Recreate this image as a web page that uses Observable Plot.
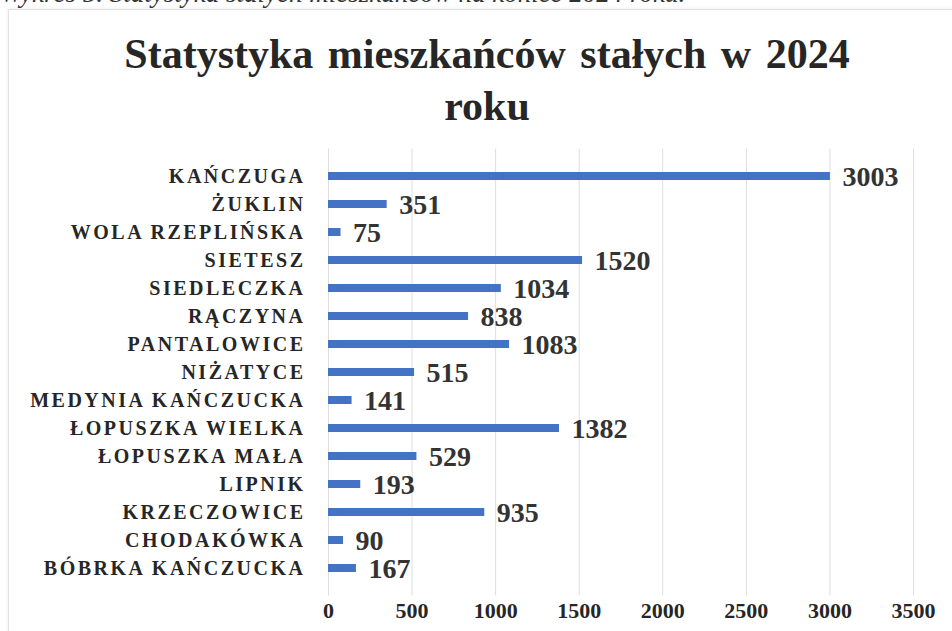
<!DOCTYPE html>
<html>
<head>
<meta charset="utf-8">
<script src="https://cdn.jsdelivr.net/npm/d3@7"></script>
<script src="https://cdn.jsdelivr.net/npm/@observablehq/plot@0.6"></script>
<style>
  html, body { margin: 0; padding: 0; background: #fff; }
  #wrap { position: relative; width: 952px; height: 631px; overflow: hidden; background: #fff; }
  #caption { position: absolute; left: 0px; top: -22px; font: italic 27px "Liberation Serif", serif; color: #333; white-space: nowrap; }
  #frame { position: absolute; left: 8px; top: 9px; width: 1000px; height: 700px; border-left: 1.5px solid #e2e2e2; border-top: 1.5px solid #e2e2e2; box-shadow: -1px -1px 3px rgba(0,0,0,0.05); }
  #title { position: absolute; left: 0; top: 28px; width: 974px; text-align: center; font: bold 42px/52px "Liberation Serif", serif; color: #262626; word-spacing: 4px; }
  #chart { position: absolute; left: 0; top: 140px; }
  #chart g[aria-label="y-axis tick label"] text { letter-spacing: 2.5px; }
</style>
</head>
<body>
<div id="wrap">
  <div id="caption">Wykres 5. Statystyka stałych mieszkańców na koniec 2024 roku.</div>
  <div id="frame"></div>
  <div id="title">Statystyka mieszkańców stałych w 2024<br>roku</div>
  <div id="chart"></div>
</div>
<script>
const villages = ["KAŃCZUGA", "ŻUKLIN", "WOLA RZEPLIŃSKA", "SIETESZ", "SIEDLECZKA", "RĄCZYNA", "PANTALOWICE", "NIŻATYCE", "MEDYNIA KAŃCZUCKA", "ŁOPUSZKA WIELKA", "ŁOPUSZKA MAŁA", "LIPNIK", "KRZECZOWICE", "CHODAKÓWKA", "BÓBRKA KAŃCZUCKA"];
const residents = [3003, 351, 75, 1520, 1034, 838, 1083, 515, 141, 1382, 529, 193, 935, 90, 167];
const xTicks = [0, 500, 1000, 1500, 2000, 2500, 3000, 3500];

const data = villages.map((name, i) => ({name, value: residents[i]}));

const chart = Plot.plot({
  width: 952,
  height: 491,
  marginLeft: 328,
  marginRight: 39,
  marginTop: 8.5,
  marginBottom: 35.5,
  x: {domain: [0, 3500], label: null},
  y: {domain: villages, padding: 0.7, label: null},
  style: {fontFamily: "'Liberation Serif', serif", color: "#262626", background: "transparent", overflow: "visible"},
  marks: [
    Plot.gridX(xTicks, {stroke: "#dedede", strokeOpacity: 1, strokeWidth: 1}),
    Plot.barX(data, {x: "value", y: "name", fill: "#4472C4"}),
    Plot.text(data, {x: "value", y: "name", text: d => String(d.value), textAnchor: "start", dx: 12, dy: 1, fontSize: 28, fontWeight: "bold", fill: "#333"}),
    Plot.axisX({ticks: xTicks, tickFormat: d => String(d), tickSize: 0, tickPadding: 6, fontSize: 22, fontWeight: "bold", label: null, fill: "#262626"}),
    Plot.axisY({tickSize: 0, tickPadding: 23, fontSize: 20, fontWeight: "bold", label: null, fill: "#262626"})
  ]
});
document.getElementById("chart").appendChild(chart);
</script>
</body>
</html>
